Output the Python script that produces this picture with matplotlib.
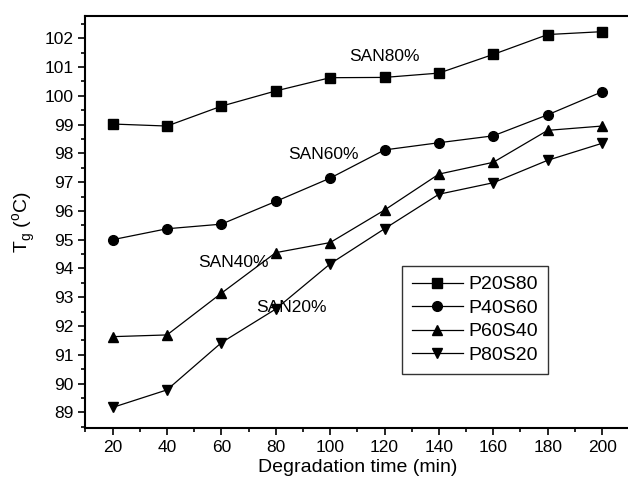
import matplotlib
matplotlib.use('Agg')
import matplotlib.pyplot as plt
from matplotlib.ticker import MultipleLocator

plt.rcParams['font.family'] = ['Liberation Sans', 'DejaVu Sans']

time_min = [20, 40, 60, 80, 100, 120, 140, 160, 180, 200]
p20s80 = [99.02, 98.95, 99.64, 100.17, 100.63, 100.64, 100.79, 101.44, 102.13, 102.23]
p40s60 = [95.0, 95.38, 95.54, 96.33, 97.14, 98.12, 98.37, 98.61, 99.34, 100.14]
p60s40 = [91.63, 91.69, 93.14, 94.55, 94.9, 96.03, 97.28, 97.69, 98.8, 98.95]
p80s20 = [89.17, 89.78, 91.42, 92.59, 94.16, 95.38, 96.58, 96.98, 97.76, 98.35]

series_names = ['P20S80', 'P40S60', 'P60S40', 'P80S20']
markers = ['s', 'o', '^', 'v']

annot_text = ['SAN80%', 'SAN60%', 'SAN40%', 'SAN20%']
annot_x = [120, 97.7, 64.4, 85.6]
annot_y = [101.35, 97.95, 94.22, 92.66]

fig = plt.figure(figsize=(6.28, 4.8), dpi=100)
ax = fig.add_axes([0.136, 0.108, 0.866, 0.859])

for vals, name, m in zip([p20s80, p40s60, p60s40, p80s20], series_names, markers):
    ax.plot(time_min, vals, color='black', linewidth=0.9, marker=m,
            markersize=7, label=name)

for t, x, y in zip(annot_text, annot_x, annot_y):
    ax.text(x, y, t, ha='center', va='center', fontsize=12.5)

ax.set_xlim(10, 210)
ax.set_ylim(88.45, 102.78)
ax.xaxis.set_major_locator(MultipleLocator(20))
ax.xaxis.set_minor_locator(MultipleLocator(10))
ax.yaxis.set_major_locator(MultipleLocator(1))
ax.yaxis.set_minor_locator(MultipleLocator(0.5))
ax.tick_params(which='both', direction='out', labelsize=12.5, width=1.2)
ax.tick_params(which='major', length=5)
ax.tick_params(which='minor', length=3)
ax.spines['right'].set_visible(False)
for s in ['left', 'bottom', 'top']:
    ax.spines[s].set_linewidth(1.5)

ax.set_xlabel('Degradation time (min)', fontsize=14, labelpad=3)
ax.set_ylabel(r'T$_\mathregular{g}$ ($^\mathregular{o}$C)', fontsize=14, labelpad=5)

leg = ax.legend(loc='upper left', bbox_to_anchor=(0.583, 0.393), fontsize=14,
                frameon=True, fancybox=False, edgecolor='black',
                handlelength=2.6, handletextpad=0.3, borderpad=0.5,
                labelspacing=0.3, borderaxespad=0)
leg.get_frame().set_linewidth(1.0)

plt.savefig('out.png', dpi=100)
